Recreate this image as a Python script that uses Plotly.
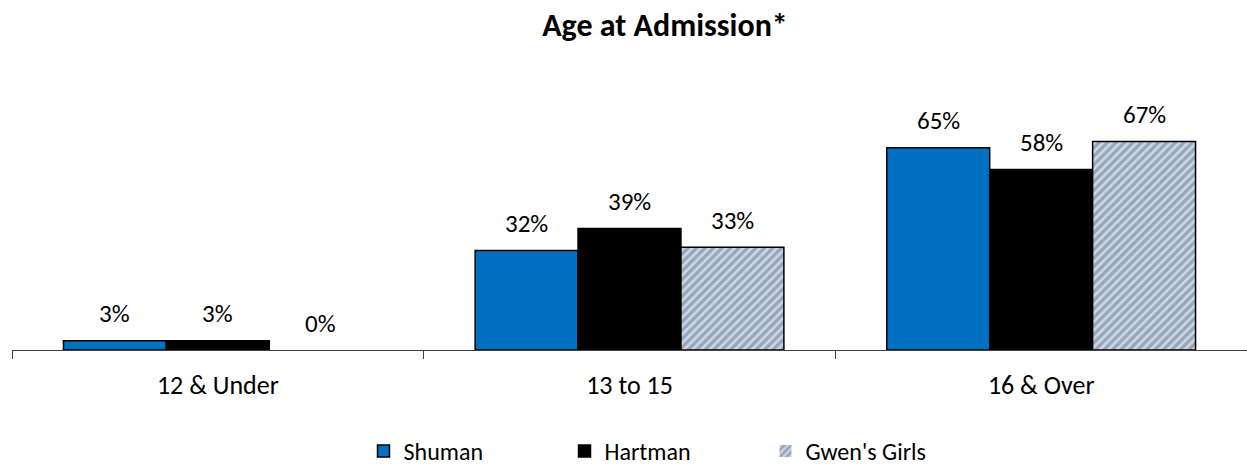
import plotly.graph_objects as go

categories = ["12 & Under", "13 to 15", "16 & Over"]
series_names = ["Shuman", "Hartman", "Gwen's Girls"]
shuman = [3, 32, 65]
hartman = [3, 39, 58]
gwens = [0, 33, 67]

FONT = "Calibri, Carlito, Lato, 'Open Sans', sans-serif"
xpos = list(range(len(categories)))
values = [shuman, hartman, gwens]
offsets = [-0.25, 0.0, 0.25]


def outline(vals):
    return [1.5 if v > 0 else 0 for v in vals]


fig = go.Figure()
fig.add_trace(go.Bar(name=series_names[0], x=xpos, y=shuman,
                     marker=dict(color="#0070c0", line=dict(color="#000000", width=outline(shuman)))))
fig.add_trace(go.Bar(name=series_names[1], x=xpos, y=hartman,
                     marker=dict(color="#000000", line=dict(color="#000000", width=outline(hartman)))))
fig.add_trace(go.Bar(name=series_names[2], x=xpos, y=gwens,
                     marker=dict(color="#c6d9f1", line=dict(color="#000000", width=outline(gwens)),
                                 pattern=dict(shape="/", fgcolor="#707070", bgcolor="#c6d9f1",
                                              size=6, solidity=0.55))))

annotations = []
for vals, off in zip(values, offsets):
    for xi, v in zip(xpos, vals):
        annotations.append(dict(x=xi + off, y=v, xref="x", yref="y", text=f"{v}%",
                                showarrow=False, yshift=27, yanchor="middle",
                                font=dict(family=FONT, size=25, color="#000000")))

fig.update_layout(
    width=1247, height=474,
    margin=dict(l=12, r=0, t=101, b=124),
    paper_bgcolor="white", plot_bgcolor="white",
    barmode="group", bargap=0.25, bargroupgap=0,
    title=dict(text="<b>Age at Admission*</b>", x=665/1247, xanchor="center", xref="container",
               y=1 - 25/474, yanchor="middle", yref="container",
               font=dict(family=FONT, size=32, color="#000000")),
    font=dict(family=FONT, size=26, color="#000000"),
    showlegend=True,
    legend=dict(orientation="h", xref="container", yref="container",
                x=665/1247, xanchor="center", y=-7/474, yanchor="bottom",
                font=dict(family=FONT, size=24, color="#000000"),
                entrywidth=156, entrywidthmode="pixels", itemwidth=30,
                traceorder="normal", tracegroupgap=0),
    annotations=annotations,
)
fig.update_xaxes(range=[-0.5, 2.5], tickvals=xpos, ticktext=categories, ticks="",
                 showline=True, linecolor="#404040", linewidth=1, showgrid=False, zeroline=False,
                 tickfont=dict(family=FONT, size=26, color="#000000"), ticklabelstandoff=12,
                 minor=dict(tickvals=[-0.5, 0.5, 1.5, 2.5], ticks="outside", ticklen=8,
                            tickcolor="#404040", showgrid=False))
fig.update_yaxes(range=[0, 80], visible=False, showgrid=False, zeroline=False)

fig.write_html("out.html")
